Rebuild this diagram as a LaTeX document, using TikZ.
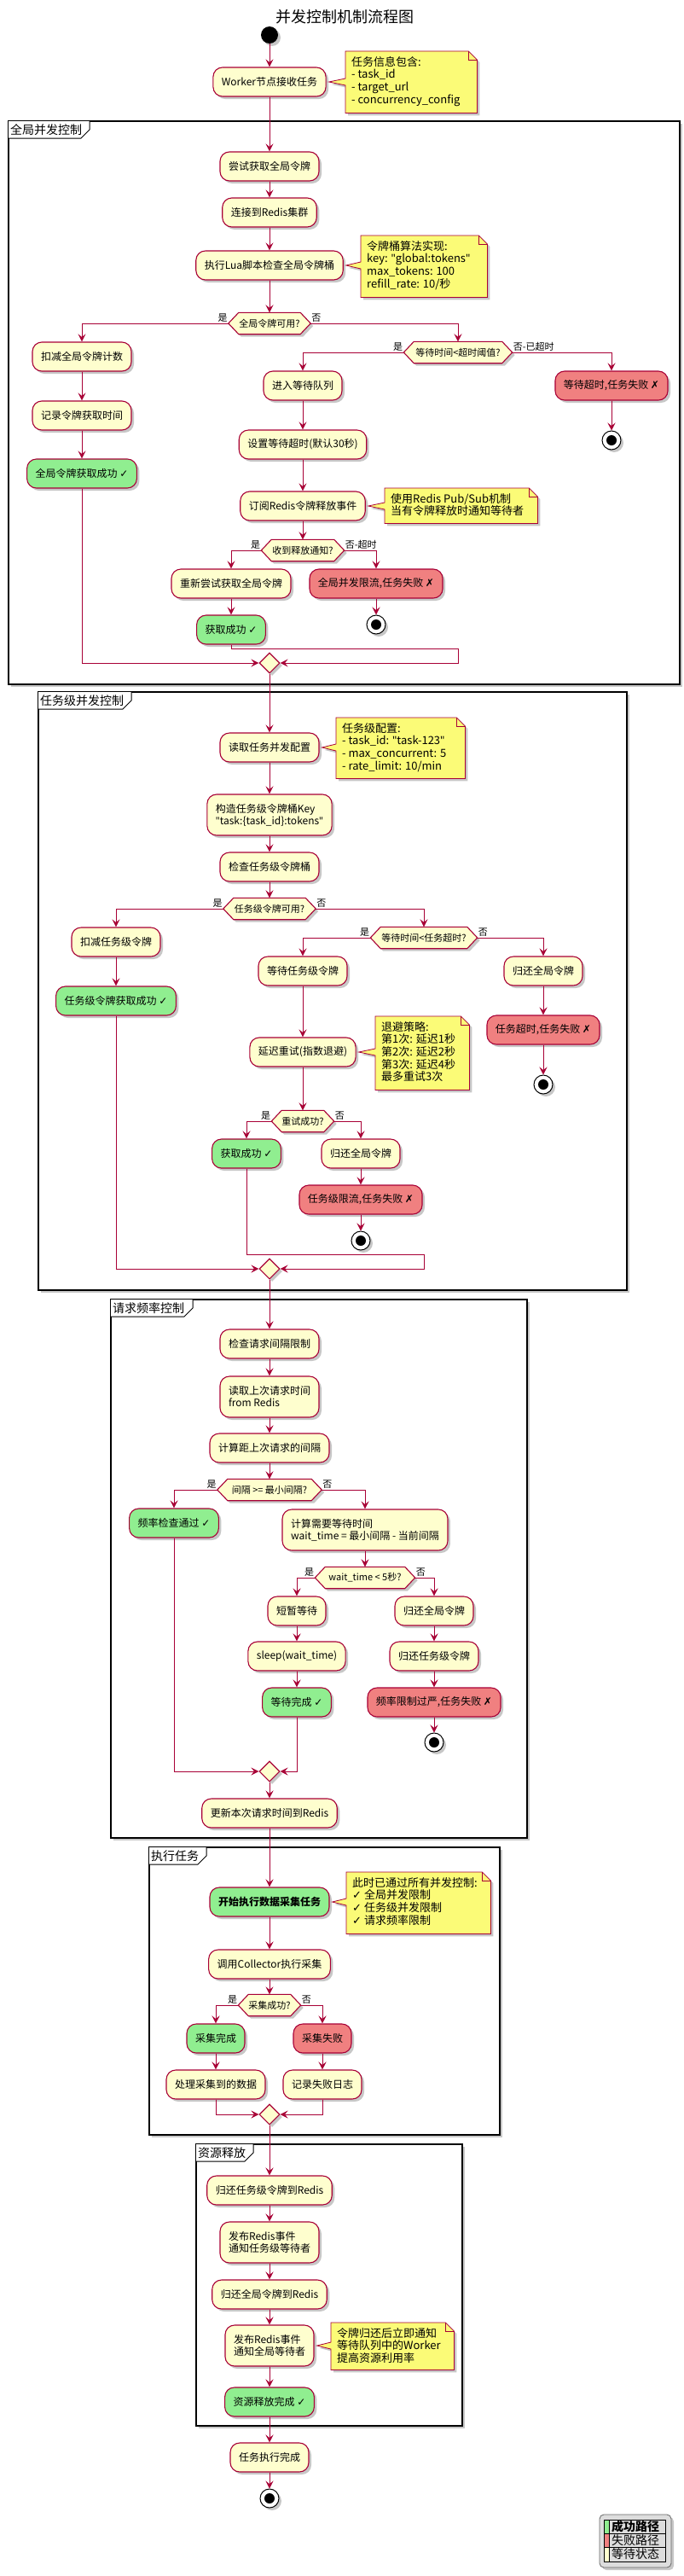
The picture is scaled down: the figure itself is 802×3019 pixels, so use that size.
\documentclass[tikz,border=0pt]{standalone}
\usepackage{fontspec}
\setmainfont{Noto Sans CJK SC}
\newfontfamily\symfont{DejaVu Sans}
\newfontfamily\latinfont{Noto Sans}
\usetikzlibrary{arrows.meta,shapes.geometric,shadows,calc}
\definecolor{actfill}{HTML}{FEFECE}
\definecolor{bord}{HTML}{A80036}
\definecolor{okgreen}{HTML}{90EE90}
\definecolor{badred}{HTML}{F08080}
\definecolor{notefill}{HTML}{FBFB77}
\definecolor{legbg}{HTML}{DDDDDD}
\newcommand{\mychk}{{\symfont ✓}}
\newcommand{\mycrs}{{\symfont ✗}}
\newcommand{\dq}{{\latinfont "}}
\newcommand{\fsact}{\fontsize{12}{14}\selectfont}
\newcommand{\notecall}[2]{%
  \draw[noteline] (#1.north west) -- ($(#1.north east)+(-10,0)$) -- ($(#1.north east)+(0,10)$) -- (#1.south east) -- (#1.south west) -- ($(#1.west |- #2.east)+(0,4)$) -- ($(#2.east)+(3,0)$) -- ($(#1.west |- #2.east)+(0,-4)$) -- cycle;
  \draw[draw=bord, line width=0.8pt] ($(#1.north east)+(-10,0)$) -- ($(#1.north east)+(-10,10)$) -- ($(#1.north east)+(0,10)$);
}
\newcommand{\hexdec}[4]{%
  \node[hexbox, minimum width=#3] (#1) at (#2) {};
  \draw[hexline] (#1.west) -- ($(#1.north west)+(12,0)$) -- ($(#1.north east)+(-12,0)$) -- (#1.east) -- ($(#1.south east)+(-12,0)$) -- ($(#1.south west)+(12,0)$) -- cycle;
  \node[hexlabel] (#1-t) at (#1.center) {#4};
}
\tikzset{
  x=1pt, y=-1pt,
  shad/.style={drop shadow={shadow xshift=3pt,shadow yshift=-3pt,opacity=0.22,fill=black}},
  act/.style={draw=bord, fill=actfill, line width=1.1pt, rounded corners=11pt, minimum height=34pt, inner xsep=10pt, inner ysep=6pt, font=\fsact, align=center, shad},
  actok/.style={act, fill=okgreen},
  actbad/.style={act, fill=badred},
  act2/.style={act, align=left, minimum height=48pt},
  arr/.style={draw=bord, line width=0.9pt, -{Stealth[length=9pt,width=9pt,inset=3.5pt]}},
  hexbox/.style={rectangle, minimum height=25pt, inner sep=0pt},
  hexline/.style={draw=bord, fill=actfill, line width=1.1pt, shad},
  hexlabel/.style={font=\fontsize{11}{13}\selectfont, inner sep=0pt},
  brl/.style={font=\fontsize{11}{13}\selectfont, inner sep=1pt},
  merge/.style={diamond, draw=bord, fill=actfill, line width=1.1pt, minimum width=24pt, minimum height=24pt, inner sep=0pt, shad},
  startnode/.style={circle, fill=black, minimum size=20pt, inner sep=0pt, shad},
  endnode/.style={circle, draw=black, fill=white, line width=1pt, minimum size=22pt, inner sep=0pt, path picture={\fill[black] (path picture bounding box.center) circle (6pt);}, shad},
  notebg/.style={rectangle, anchor=north west, inner sep=0pt},
  noteline/.style={draw=bord, fill=notefill, line width=0.8pt, shad},
  notetext/.style={anchor=north west, align=left, inner sep=0pt, font=\fontsize{13}{14.7}\selectfont},
  frame/.style={draw=black, fill=white, line width=1.4pt, shad},
  tabline/.style={draw=black, line width=1pt},
  framelab/.style={anchor=west, inner sep=0pt, font=\fontsize{14}{16}\selectfont},
  legtext/.style={anchor=west, inner sep=0pt, font=\fontsize{14}{16}\selectfont},
}
\begin{document}
\begin{tikzpicture}
\fill[white] (0,0) rectangle (802,3019);
\useasboundingbox (0,0) rectangle (802,3019);

% ---------- frames ----------
\draw[frame] (10,142) rectangle (797,802);
\fill[white] (10,142) -- (105,142) -- (105,152) -- (95,162) -- (10,162) -- cycle;
\draw[tabline] (105,142) -- (105,152) -- (95,162) -- (10,162);
\node[framelab] (f1) at (12,152) {全局并发控制};

\draw[frame] (45,811) rectangle (735,1512);
\fill[white] (45,811) -- (154,811) -- (154,821) -- (144,831) -- (45,831) -- cycle;
\draw[tabline] (154,811) -- (154,821) -- (144,831) -- (45,831);
\node[framelab] (f2) at (47,821) {任务级并发控制};

\draw[frame] (130,1523) rectangle (618,2154);
\fill[white] (130,1523) -- (226,1523) -- (226,1533) -- (216,1543) -- (130,1543) -- cycle;
\draw[tabline] (226,1523) -- (226,1533) -- (216,1543) -- (130,1543);
\node[framelab] (f3) at (132,1533) {请求频率控制};

\draw[frame] (175,2165) rectangle (586,2502);
\fill[white] (175,2165) -- (242,2165) -- (242,2175) -- (232,2185) -- (175,2185) -- cycle;
\draw[tabline] (242,2165) -- (242,2175) -- (232,2185) -- (175,2185);
\node[framelab] (f4) at (177,2175) {执行任务};

\draw[frame] (230,2513) rectangle (542,2843);
\fill[white] (230,2513) -- (297,2513) -- (297,2523) -- (287,2533) -- (230,2533) -- cycle;
\draw[tabline] (297,2513) -- (297,2523) -- (287,2533) -- (230,2533);
\node[framelab] (f5) at (232,2523) {资源释放};

% ---------- title & start ----------
\node[font=\fontsize{18}{20}\selectfont] (title) at (404,20) {并发控制机制流程图};
\node[startnode] (start) at (316,41) {};
\node[act] (worker) at (316,96) {Worker节点接收任务};
\node[notebg, minimum width=154pt, minimum height=72pt] (n1) at (405,60) {};
\notecall{n1}{worker}
\node[notetext] (n1t) at ($(n1.north west)+(7,6)$) {任务信息包含:\\- task\_id\\- target\_url\\- concurrency\_config};

% ---------- global ----------
\node[act] (a1) at (316,195) {尝试获取全局令牌};
\node[act] (a2) at (316,249) {连接到Redis集群};
\node[act] (a3) at (316,311) {执行Lua脚本检查全局令牌桶};
\node[notebg, minimum width=148pt, minimum height=72pt] (n2) at (423,276) {};
\notecall{n2}{a3}
\node[notetext] (n2t) at ($(n2.north west)+(7,6)$) {令牌桶算法实现:\\key: \dq global:tokens\dq\\max\_tokens: 100\\refill\_rate: 10/秒};
\hexdec{d1}{316,379}{96pt}{全局令牌可用?}
\node[brl, anchor=south east] (d1y) at (d1.west) {是};
\node[brl, anchor=south west] (d1n) at (d1.east) {否};
\node[act] (a4) at (96,418) {扣减全局令牌计数};
\node[act] (a5) at (96,487) {记录令牌获取时间};
\node[actok] (g1) at (96,555) {全局令牌获取成功 \mychk};
\hexdec{d2}{537,413}{127pt}{等待时间<超时阈值?}
\node[brl, anchor=south east] (d2y) at (d2.west) {是};
\node[brl, anchor=south west] (d2n) at (d2.east) {否-已超时};
\node[act] (a6) at (355,452) {进入等待队列};
\node[actbad] (r1) at (717,452) {等待超时,任务失败 \mycrs};
\node[endnode] (e1) at (717,516) {};
\node[act] (a7) at (355,521) {设置等待超时(默认30秒)};
\node[act] (a8) at (355,593) {订阅Redis令牌释放事件};
\node[notebg, minimum width=179pt, minimum height=41pt] (n3) at (451,572) {};
\notecall{n3}{a8}
\node[notetext] (n3t) at ($(n3.north west)+(7,6)$) {使用Redis Pub/Sub机制\\当有令牌释放时通知等待者};
\hexdec{d3}{355,645}{97pt}{收到释放通知?}
\node[brl, anchor=south east] (d3y) at (d3.west) {是};
\node[brl, anchor=south west] (d3n) at (d3.east) {否-超时};
\node[act] (a9) at (271,684) {重新尝试获取全局令牌};
\node[actbad] (r2) at (441,684) {全局并发限流,任务失败 \mycrs};
\node[endnode] (e2) at (441,732) {};
\node[actok] (g2) at (271,738) {获取成功 \mychk};
\node[merge] (m1) at (316,777) {};
\coordinate (j1a) at (537,760);
\coordinate (j1) at (537,777);

% ---------- task level ----------
\node[act] (b1) at (316,876) {读取任务并发配置};
\node[notebg, minimum width=151pt, minimum height=71pt] (n4) at (394,841) {};
\notecall{n4}{b1}
\node[notetext] (n4t) at ($(n4.north west)+(7,6)$) {任务级配置:\\- task\_id: \dq task-123\dq\\- max\_concurrent: 5\\- rate\_limit: 10/min};
\node[act2] (b2) at (316,955) {构造任务级令牌桶Key\\\dq task:\{task\_id\}:tokens\dq};
\node[act] (b3) at (316,1016) {检查任务级令牌桶};
\hexdec{d4}{316,1065}{108pt}{任务级令牌可用?}
\node[brl, anchor=south east] (d4y) at (d4.west) {是};
\node[brl, anchor=south west] (d4n) at (d4.east) {否};
\node[act] (b4) at (136,1104) {扣减任务级令牌};
\node[actok] (g3) at (136,1173) {任务级令牌获取成功 \mychk};
\hexdec{d5}{497,1099}{125pt}{等待时间<任务超时?}
\node[brl, anchor=south east] (d5y) at (d5.west) {是};
\node[brl, anchor=south west] (d5n) at (d5.east) {否};
\node[act] (b5) at (355,1138) {等待任务级令牌};
\node[act] (b6) at (637,1138) {归还全局令牌};
\node[act] (b7) at (355,1233) {延迟重试(指数退避)};
\node[notebg, minimum width=110pt, minimum height=86pt] (n5) at (440,1191) {};
\notecall{n5}{b7}
\node[notetext] (n5t) at ($(n5.north west)+(7,6)$) {退避策略:\\第1次: 延迟1秒\\第2次: 延迟2秒\\第3次: 延迟4秒\\最多重试3次};
\node[actbad] (r3) at (637,1207) {任务超时,任务失败 \mycrs};
\node[endnode] (e3) at (637,1271) {};
\hexdec{d6}{355,1314}{73pt}{重试成功?}
\node[brl, anchor=south east] (d6y) at (d6.west) {是};
\node[brl, anchor=south west] (d6n) at (d6.east) {否};
\node[actok] (g4) at (289,1352) {获取成功 \mychk};
\node[act] (b8) at (423,1352) {归还全局令牌};
\node[actbad] (r4) at (423,1406) {任务级限流,任务失败 \mycrs};
\node[endnode] (e4) at (423,1454) {};
\node[merge] (m2) at (316,1487) {};
\coordinate (j2a) at (497,1470);
\coordinate (j2) at (497,1487);

% ---------- rate ----------
\node[act] (c1) at (316,1575) {检查请求间隔限制};
\node[act2] (c2) at (316,1637) {读取上次请求时间\\from Redis};
\node[act] (c3) at (316,1697) {计算距上次请求的间隔};
\hexdec{d7}{316,1746}{122pt}{间隔 >= 最小间隔?}
\node[brl, anchor=south east] (d7y) at (d7.west) {是};
\node[brl, anchor=south west] (d7n) at (d7.east) {否};
\node[actok] (g5) at (204,1785) {频率检查通过 \mychk};
\node[act2] (c4) at (428,1793) {计算需要等待时间\\wait\_time = 最小间隔 - 当前间隔};
\hexdec{d8}{428,1849}{117pt}{wait\_time < 5秒?}
\node[brl, anchor=south east] (d8y) at (d8.west) {是};
\node[brl, anchor=south west] (d8n) at (d8.east) {否};
\node[act] (c5) at (348,1888) {短暂等待};
\node[act] (c6) at (509,1888) {归还全局令牌};
\node[act] (c7) at (348,1941) {sleep(wait\_time)};
\node[act] (c8) at (509,1941) {归还任务级令牌};
\node[actok] (g6) at (348,1995) {等待完成 \mychk};
\node[actbad] (r5) at (509,1995) {频率限制过严,任务失败 \mycrs};
\node[endnode] (e5) at (509,2042) {};
\node[merge] (m3) at (316,2076) {};
\node[act] (c9) at (316,2125) {更新本次请求时间到Redis};

% ---------- execute ----------
\node[actok] (x1) at (316,2229) {\bfseries 开始执行数据采集任务};
\node[notebg, minimum width=169pt, minimum height=72pt] (n6) at (406,2194) {};
\notecall{n6}{x1}
\node[notetext] (n6t) at ($(n6.north west)+(7,6)$) {此时已通过所有并发控制:\\\mychk{} 全局并发限制\\\mychk{} 任务级并发限制\\\mychk{} 请求频率限制};
\node[act] (x2) at (316,2302) {调用Collector执行采集};
\hexdec{d9}{316,2350}{73pt}{采集成功?}
\node[brl, anchor=south east] (d9y) at (d9.west) {是};
\node[brl, anchor=south west] (d9n) at (d9.east) {否};
\node[actok] (g7) at (253,2389) {采集完成};
\node[actbad] (r6) at (378,2389) {采集失败};
\node[act] (x3) at (253,2443) {处理采集到的数据};
\node[act] (x4) at (378,2443) {记录失败日志};
\node[merge] (m4) at (316,2478) {};

% ---------- release ----------
\node[act] (y1) at (316,2567) {归还任务级令牌到Redis};
\node[act2] (y2) at (316,2628) {发布Redis事件\\通知任务级等待者};
\node[act] (y3) at (316,2689) {归还全局令牌到Redis};
\node[act2] (y4) at (316,2749) {发布Redis事件\\通知全局等待者};
\node[notebg, minimum width=144pt, minimum height=55pt] (n7) at (388,2722) {};
\notecall{n7}{y4}
\node[notetext] (n7t) at ($(n7.north west)+(7,6)$) {令牌归还后立即通知\\等待队列中的Worker\\提高资源利用率};
\node[actok] (g8) at (316,2815) {资源释放完成 \mychk};
\node[act] (z1) at (316,2880) {任务执行完成};
\node[endnode] (e6) at (316,2928) {};

% ---------- connectors ----------
\draw[arr] (start) -- (worker);
\draw[arr] (worker) -- (a1);
\draw[arr] (a1) -- (a2);
\draw[arr] (a2) -- (a3);
\draw[arr] (a3) -- (d1.north);
\draw[arr] (d1.west) -| (a4.north);
\draw[arr] (d1.east) -| (d2.north);
\draw[arr] (a4) -- (a5);
\draw[arr] (a5) -- (g1);
\draw[arr] (d2.west) -| (a6.north);
\draw[arr] (d2.east) -| (r1.north);
\draw[arr] (r1) -- (e1);
\draw[arr] (a6) -- (a7);
\draw[arr] (a7) -- (a8);
\draw[arr] (a8) -- (d3.north);
\draw[arr] (d3.west) -| (a9.north);
\draw[arr] (d3.east) -| (r2.north);
\draw[arr] (r2) -- (e2);
\draw[arr] (a9) -- (g2);
\draw[arr] (g1.south) |- (m1.west);
\draw[arr] (g2.south) |- (j1a) -- (j1) -- (m1.east);
\draw[arr] (m1.south) -- (b1);
\draw[arr] (b1) -- (b2);
\draw[arr] (b2) -- (b3);
\draw[arr] (b3) -- (d4.north);
\draw[arr] (d4.west) -| (b4.north);
\draw[arr] (d4.east) -| (d5.north);
\draw[arr] (b4) -- (g3);
\draw[arr] (d5.west) -| (b5.north);
\draw[arr] (d5.east) -| (b6.north);
\draw[arr] (b5) -- (b7);
\draw[arr] (b7) -- (d6.north);
\draw[arr] (b6) -- (r3);
\draw[arr] (r3) -- (e3);
\draw[arr] (d6.west) -| (g4.north);
\draw[arr] (d6.east) -| (b8.north);
\draw[arr] (b8) -- (r4);
\draw[arr] (r4) -- (e4);
\draw[arr] (g3.south) |- (m2.west);
\draw[arr] (g4.south) |- (j2a) -- (j2) -- (m2.east);
\draw[arr] (m2.south) -- (c1);
\draw[arr] (c1) -- (c2);
\draw[arr] (c2) -- (c3);
\draw[arr] (c3) -- (d7.north);
\draw[arr] (d7.west) -| (g5.north);
\draw[arr] (d7.east) -| (c4.north);
\draw[arr] (c4) -- (d8.north);
\draw[arr] (d8.west) -| (c5.north);
\draw[arr] (d8.east) -| (c6.north);
\draw[arr] (c5) -- (c7);
\draw[arr] (c7) -- (g6);
\draw[arr] (c6) -- (c8);
\draw[arr] (c8) -- (r5);
\draw[arr] (r5) -- (e5);
\draw[arr] (g5.south) |- (m3.west);
\draw[arr] (g6.south) |- (m3.east);
\draw[arr] (m3.south) -- (c9);
\draw[arr] (c9) -- (x1);
\draw[arr] (x1) -- (x2);
\draw[arr] (x2) -- (d9.north);
\draw[arr] (d9.west) -| (g7.north);
\draw[arr] (d9.east) -| (r6.north);
\draw[arr] (g7) -- (x3);
\draw[arr] (r6) -- (x4);
\draw[arr] (x3.south) |- (m4.west);
\draw[arr] (x4.south) |- (m4.east);
\draw[arr] (m4.south) -- (y1);
\draw[arr] (y1) -- (y2);
\draw[arr] (y2) -- (y3);
\draw[arr] (y3) -- (y4);
\draw[arr] (y4) -- (g8);
\draw[arr] (g8) -- (z1);
\draw[arr] (z1) -- (e6);

% ---------- legend ----------
\draw[draw=black!60, fill=legbg, line width=0.8pt, rounded corners=5pt, shad] (703,2947) rectangle (787,3009);
\fill[okgreen] (708,2953) rectangle (714,2969);
\fill[badred] (708,2969) rectangle (714,2985);
\fill[actfill] (708,2985) rectangle (714,3002);
\draw[black, line width=0.8pt] (708,2953) rectangle (780,3002);
\draw[black, line width=0.8pt] (708,2969) -- (780,2969) (708,2985) -- (780,2985) (714,2953) -- (714,3002);
\node[legtext, font=\fontsize{14}{16}\selectfont\bfseries] (lg1) at (717,2961) {成功路径};
\node[legtext] (lg2) at (717,2977) {失败路径};
\node[legtext] (lg3) at (717,2993.5) {等待状态};
\end{tikzpicture}
\end{document}
